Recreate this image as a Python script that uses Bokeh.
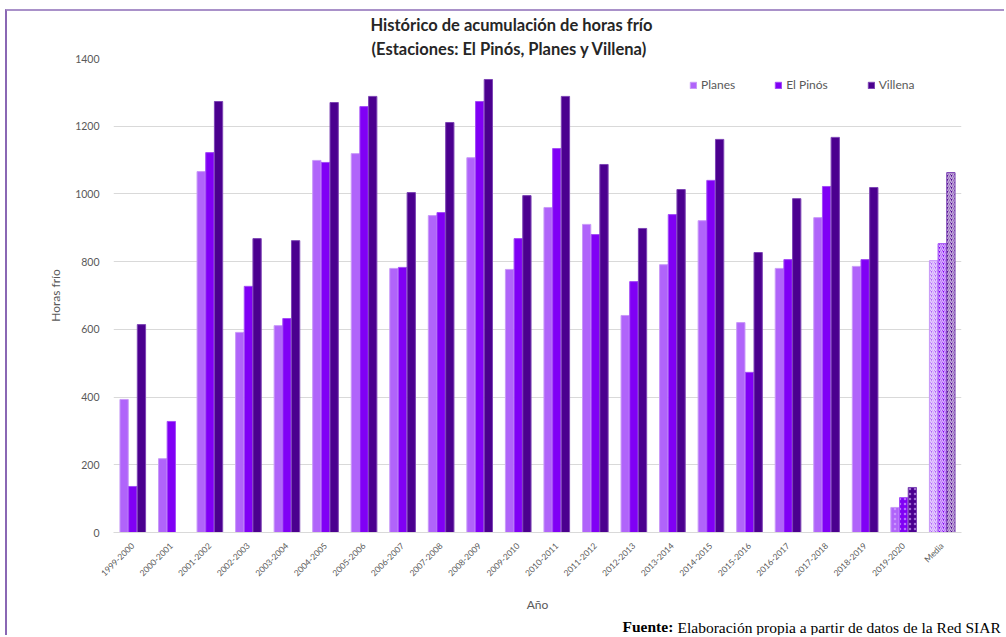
import math
from bokeh.plotting import figure
from bokeh.models import (FactorRange, Range1d, Label, Title, Legend, LegendItem,
                          ColumnDataSource, FixedTicker)
from bokeh.transform import dodge
from bokeh.embed import file_html
from bokeh.resources import INLINE

# ---------------- data ----------------
years = ["1999-2000", "2000-2001", "2001-2002", "2002-2003", "2003-2004",
         "2004-2005", "2005-2006", "2006-2007", "2007-2008", "2008-2009",
         "2009-2010", "2010-2011", "2011-2012", "2012-2013", "2013-2014",
         "2014-2015", "2015-2016", "2016-2017", "2017-2018", "2018-2019",
         "2019-2020", "Media"]
planes = [393, 218, 1066, 591, 611, 1099, 1119, 780, 936, 1107, 777, 960,
          910, 641, 791, 921, 620, 780, 930, 786, 74, 803]
el_pinos = [136, 328, 1122, 727, 632, 1093, 1258, 783, 945, 1273, 868, 1134,
            880, 741, 939, 1040, 473, 806, 1022, 806, 103, 853]
villena = [614, 0, 1273, 868, 862, 1270, 1288, 1004, 1211, 1338, 995, 1288,
           1087, 898, 1013, 1161, 827, 986, 1167, 1019, 133, 1063]
series_names = ["Planes", "El Pinós", "Villena"]
y_ticks = [0, 200, 400, 600, 800, 1000, 1200, 1400]

# ---------------- styles ----------------
fills = ["#B064FA", "#8000F5", "#4B008F"]
edges = ["#C99AF8", "#A34CF7", "#7D45B5"]
offsets = [-0.225, 0.0, 0.225]
BAR_W = 0.215
TXT = "#595959"
FONT = "Lato"

p = figure(x_range=FactorRange(*years), y_range=Range1d(0, 1400),
           width=999, height=626, output_backend="svg", toolbar_location=None,
           min_border_left=106, min_border_right=45, min_border_top=47,
           min_border_bottom=105)
p.styles = {"margin-left": "5px", "margin-top": "9px",
            "border-top": "2px solid #A991C9", "border-left": "2px solid #8A67B4"}

# titles
p.title.text = "Histórico de acumulación de horas frío"
p.title.text_font = FONT
p.title.text_font_size = "16.5px"
p.title.text_font_style = "bold"
p.title.text_color = "#262626"
p.title.align = "left"
p.title.offset = 257
p.title.standoff = 3
t2 = Title(text="(Estaciones: El Pinós, Planes y Villena)", text_font=FONT,
           text_font_size="16.5px", text_font_style="bold", text_color="#262626",
           align="left", offset=258, standoff=0)
p.add_layout(t2, "above")

renderers = []
for name, vals, fc, ec, off in zip(series_names, [planes, el_pinos, villena],
                                   fills, edges, offsets):
    reg = ColumnDataSource(dict(x=years[:20], top=vals[:20]))
    part = ColumnDataSource(dict(x=years[20:21], top=vals[20:21]))
    mean = ColumnDataSource(dict(x=years[21:22], top=vals[21:22]))
    r = p.vbar(x=dodge("x", off, range=p.x_range), top="top", width=BAR_W,
               source=reg, fill_color=fc, line_color=ec, line_width=1)
    p.vbar(x=dodge("x", off, range=p.x_range), top="top", width=BAR_W,
           source=part, fill_color=fc, line_color=ec, line_width=1,
           hatch_pattern="dot", hatch_color="#D8B8FF", hatch_alpha=0.6,
           hatch_scale=5, hatch_weight=1.5)
    p.vbar(x=dodge("x", off, range=p.x_range), top="top", width=BAR_W,
           source=mean, fill_color=fc, line_color=ec, line_width=1,
           hatch_pattern="right_diagonal_line", hatch_color="white",
           hatch_alpha=0.7, hatch_scale=4, hatch_weight=1.5)
    renderers.append((name, r))

legend = Legend(items=[LegendItem(label=n, renderers=[r]) for n, r in renderers],
                orientation="horizontal", location=(572, 436),
                border_line_alpha=0, background_fill_alpha=0,
                label_text_font=FONT, label_text_font_size="12px",
                label_text_color=TXT, glyph_width=8, glyph_height=8,
                spacing=39, label_standoff=4, padding=4, margin=0)
p.add_layout(legend)

# axes
p.yaxis.ticker = FixedTicker(ticks=y_ticks)
p.yaxis.axis_line_color = None
p.yaxis.major_tick_line_color = None
p.yaxis.minor_tick_line_color = None
p.yaxis.major_label_text_font = FONT
p.yaxis.major_label_text_font_size = "10.5px"
p.yaxis.major_label_text_color = TXT
p.yaxis.major_label_standoff = 8
p.yaxis.axis_label = "Horas frío"
p.yaxis.axis_label_text_font = FONT
p.yaxis.axis_label_text_font_size = "12px"
p.yaxis.axis_label_text_font_style = "normal"
p.yaxis.axis_label_text_color = TXT
p.yaxis.axis_label_standoff = 9

p.xaxis.axis_line_color = "#D9D9D9"
p.xaxis.major_tick_line_color = None
p.xaxis.minor_tick_line_color = None
p.xaxis.major_label_orientation = math.pi / 4
p.xaxis.major_label_text_font = FONT
p.xaxis.major_label_text_font_size = "8.5px"
p.xaxis.major_label_text_color = TXT
p.xaxis.major_label_standoff = 6

p.xgrid.grid_line_color = None
p.ygrid.grid_line_color = "#D9D9D9"
p.outline_line_color = None

# texts below the axis, placed in the lower side panel (not clipped)
p.add_layout(Label(x=424, y=-5, x_units="screen", y_units="screen",
                   text="Año", text_font=FONT, text_font_size="12px",
                   text_color=TXT, text_align="center",
                   text_baseline="middle"), "below")
p.add_layout(Label(x=509, y=-10, x_units="screen", y_units="screen",
                   text="Fuente:", text_font="Liberation Serif",
                   text_font_size="15.5px", text_font_style="bold",
                   text_color="#000000", text_baseline="alphabetic"), "below")
p.add_layout(Label(x=564, y=6, x_units="screen", y_units="screen",
                   text="Elaboración propia a partir de datos de la Red SIAR",
                   text_font="Liberation Serif", text_font_size="15.5px",
                   text_color="#000000", text_baseline="alphabetic"), "below")

open("out.html", "w").write(file_html(p, INLINE))
